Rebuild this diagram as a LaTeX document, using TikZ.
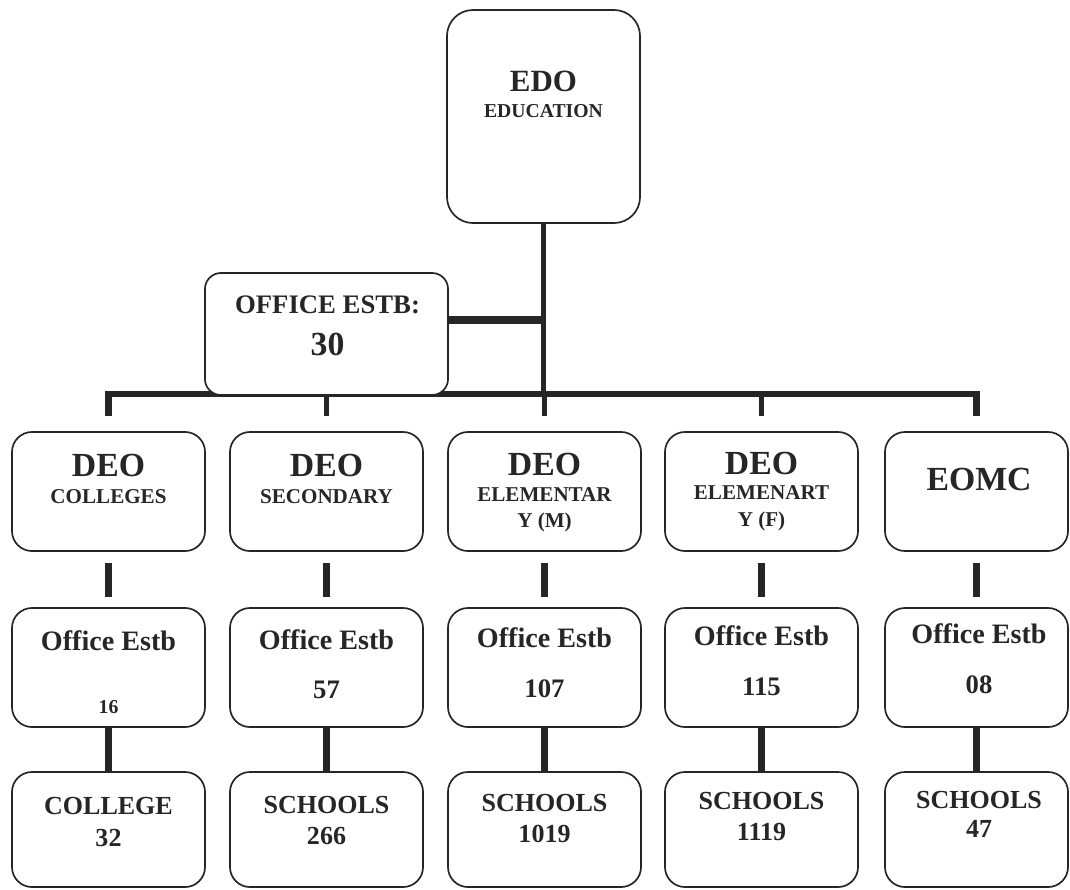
\documentclass[tikz,border=0pt]{standalone}
\usepackage{fontspec}
\setmainfont{Liberation Serif}
\usetikzlibrary{positioning, calc, backgrounds}
\colorlet{ink}{black!85}
\newcommand{\fsize}[1]{\fontsize{#1}{#1}\selectfont\bfseries}

\begin{document}
\begin{tikzpicture}[x=0.025cm, y=-0.025cm,
    orgbox/.style={rectangle, 
      draw=ink, 
      fill=white, 
      line width=1.2pt, 
      rounded corners=0.5cm, 
      inner sep=0pt, 
      minimum width=4.825cm, 
      minimum height=2.975cm},
    lbl/.style={anchor=base, inner sep=0pt, text=ink},
    bar/.style={draw=ink, line width=#1, line join=miter}]

  \useasboundingbox (0,0) rectangle (1070,889);

  % TOP BOXES

  \node[orgbox, minimum height=5.325cm, rounded corners=0.65cm] (edo) at (543.5,116.5) {};
  \node[orgbox, minimum width=6.075cm, minimum height=3.05cm, 
    rounded corners=0.4cm] (est) at (326.5,334) {};

  \node[lbl, font=\fsize{22}] (edoname) at (543.5,91) {EDO};
  \node[lbl, font=\fsize{14}] (edosub) at (543.5,117) {EDUCATION};
  \node[lbl, font=\fsize{19}] (estname) at (327.5,313) {OFFICE ESTB:};
  \node[lbl, font=\fsize{24}] (estnum) at (327.5,355) {30};

  % DEO ROW

  \node[orgbox] (deo1) at (108.5,491.5) {};
  \node[orgbox] (deo2) at (326.5,491.5) {};
  \node[orgbox] (deo3) at (544.5,491.5) {};
  \node[orgbox] (deo4) at (761.5,491.5) {};
  \node[orgbox, minimum width=4.575cm] (deo5) at (976.5,491.5) {};

  \node[lbl, font=\fsize{24}] (deo1a) at (108.5,476) {DEO};
  \node[lbl, font=\fsize{15}] (deo1b) at (108.5,503) {COLLEGES};
  \node[lbl, font=\fsize{24}] (deo2a) at (326.5,476) {DEO};
  \node[lbl, font=\fsize{15}] (deo2b) at (326.5,503) {SECONDARY};
  \node[lbl, font=\fsize{24}] (deo3a) at (544.5,475) {DEO};
  \node[lbl, font=\fsize{15}] (deo3b) at (544.5,501) {ELEMENTAR};
  \node[lbl, font=\fsize{15}] (deo3c) at (544.5,527) {Y (M)};
  \node[lbl, font=\fsize{24}] (deo4a) at (761.5,474) {DEO};
  \node[lbl, font=\fsize{15}] (deo4b) at (761.5,499) {ELEMENART};
  \node[lbl, font=\fsize{15}] (deo4c) at (761.5,526) {Y (F)};
  \node[lbl, font=\fsize{24}] (deo5a) at (979,490) {EOMC};

  % OFFICE ROW

  \node[orgbox] (off1) at (108.5,667.5) {};
  \node[orgbox] (off2) at (326.5,667.5) {};
  \node[orgbox] (off3) at (544.5,667.5) {};
  \node[orgbox] (off4) at (761.5,667.5) {};
  \node[orgbox, minimum width=4.575cm] (off5) at (976.5,667.5) {};

  \node[lbl, font=\fsize{20}] (off1a) at (108.5,650) {Office Estb};
  \node[lbl, font=\fsize{14}] (off1b) at (108.5,713) {16};
  \node[lbl, font=\fsize{20}] (off2a) at (326.5,649) {Office Estb};
  \node[lbl, font=\fsize{19}] (off2b) at (326.5,698) {57};
  \node[lbl, font=\fsize{20}] (off3a) at (544.5,647) {Office Estb};
  \node[lbl, font=\fsize{19}] (off3b) at (544.5,697) {107};
  \node[lbl, font=\fsize{20}] (off4a) at (761.5,645) {Office Estb};
  \node[lbl, font=\fsize{19}] (off4b) at (761.5,695) {115};
  \node[lbl, font=\fsize{20}] (off5a) at (979,643) {Office Estb};
  \node[lbl, font=\fsize{19}] (off5b) at (979,693) {08};

  % SCHOOL ROW

  \node[orgbox, minimum height=2.875cm] (sch1) at (108.5,829.5) {};
  \node[orgbox, minimum height=2.875cm] (sch2) at (326.5,829.5) {};
  \node[orgbox, minimum height=2.875cm] (sch3) at (544.5,829.5) {};
  \node[orgbox, minimum height=2.875cm] (sch4) at (761.5,829.5) {};
  \node[orgbox, minimum height=2.875cm, minimum width=4.575cm] (sch5) at (976.5,829.5) {};

  \node[lbl, font=\fsize{18.5}] (sch1a) at (108.5,814) {COLLEGE};
  \node[lbl, font=\fsize{18.5}] (sch1b) at (108.5,846) {32};
  \node[lbl, font=\fsize{18.5}] (sch2a) at (326.5,813) {SCHOOLS};
  \node[lbl, font=\fsize{18.5}] (sch2b) at (326.5,844) {266};
  \node[lbl, font=\fsize{18.5}] (sch3a) at (544.5,811) {SCHOOLS};
  \node[lbl, font=\fsize{18.5}] (sch3b) at (544.5,842) {1019};
  \node[lbl, font=\fsize{18.5}] (sch4a) at (761.5,809) {SCHOOLS};
  \node[lbl, font=\fsize{18.5}] (sch4b) at (761.5,840) {1119};
  \node[lbl, font=\fsize{18.5}] (sch5a) at (979,808) {SCHOOLS};
  \node[lbl, font=\fsize{18.5}] (sch5b) at (979,837) {47};

  % LINKS

  \begin{scope}[on background layer]
    \coordinate (bus) at ($(edo.south)+(0,170)$);
    \coordinate (estjoin) at ($(est.east)+(0,-14)$);

    \draw[bar=3.5pt] (edo.south) -- (bus);
    \draw[bar=5pt] (estjoin) -- (estjoin -| edo.south);

    \draw[bar=4.5pt] ($(deo1.north)+(0,-15)$) |- (bus -| deo5.north) 
    -- ($(deo5.north)+(0,-15)$);
    \draw[bar=4pt] (bus -| deo2.north) -- ($(deo2.north)+(0,-15)$);
    \draw[bar=4pt] (bus -| deo3.north) -- ($(deo3.north)+(0,-15)$);
    \draw[bar=4pt] (bus -| deo4.north) -- ($(deo4.north)+(0,-15)$);

    \draw[bar=5pt] ($(deo1.south)+(0,11)$) -- ($(off1.north)+(0,-10)$);
    \draw[bar=5pt] ($(deo2.south)+(0,11)$) -- ($(off2.north)+(0,-10)$);
    \draw[bar=5pt] ($(deo3.south)+(0,11)$) -- ($(off3.north)+(0,-10)$);
    \draw[bar=5pt] ($(deo4.south)+(0,11)$) -- ($(off4.north)+(0,-10)$);
    \draw[bar=5pt] ($(deo5.south)+(0,11)$) -- ($(off5.north)+(0,-10)$);

    \draw[bar=4.5pt] (off1.south) -- (sch1.north);
    \draw[bar=4.5pt] (off2.south) -- (sch2.north);
    \draw[bar=4.5pt] (off3.south) -- (sch3.north);
    \draw[bar=4.5pt] (off4.south) -- (sch4.north);
    \draw[bar=4.5pt] (off5.south) -- (sch5.north);
  \end{scope}

\end{tikzpicture}
\end{document}
